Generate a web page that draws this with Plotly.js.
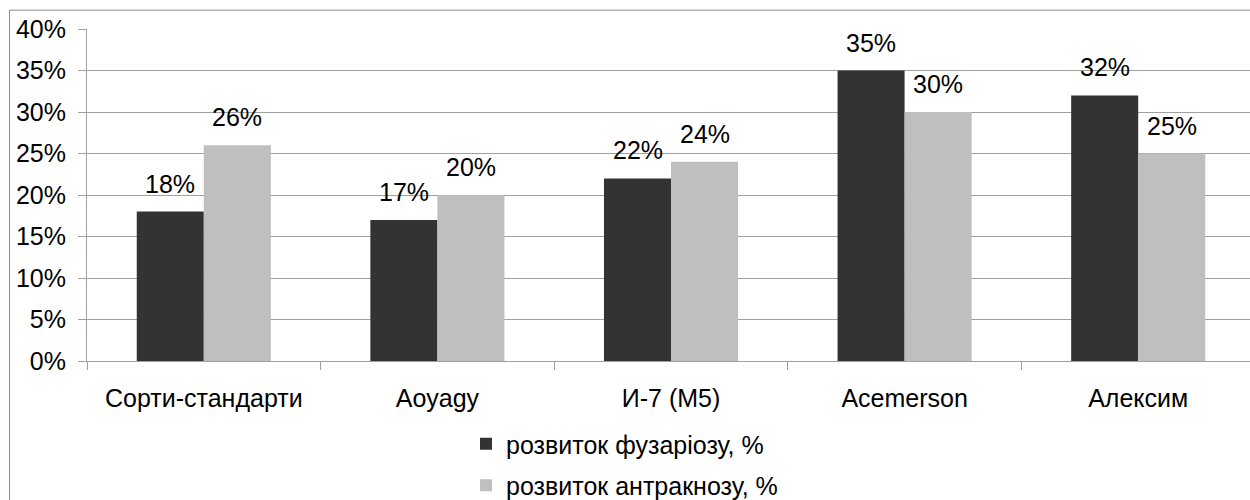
<!DOCTYPE html>
<html>
<head>
<meta charset="utf-8">
<script src="https://cdn.plot.ly/plotly-3.0.1.min.js"></script>
<style>
  html, body { margin: 0; padding: 0; overflow: hidden; background: #fff; }
  #chart { width: 1260px; height: 500px; }
</style>
</head>
<body>
<div id="chart"></div>
<script>
const categories = ["Сорти-стандарти", "Aoyagy", "И-7 (М5)", "Acemerson", "Алексим"];
const fusariumName = "розвиток фузаріозу, %";
const anthracnoseName = "розвиток антракнозу, %";
const fusarium = [0.18, 0.17, 0.22, 0.35, 0.32];
const anthracnose = [0.26, 0.20, 0.24, 0.30, 0.25];

const FONT = "Liberation Sans, Arial, sans-serif";
const ML = 87, MT = 29.3, PW = 1168, PH = 331.4;

const traces = [
  { type: "bar", name: fusariumName, x: categories, y: fusarium,
    marker: { color: "#333333" }, legendgroup: "a", hoverinfo: "none" },
  { type: "bar", name: anthracnoseName, x: categories, y: anthracnose,
    marker: { color: "#bfbfbf" }, legendgroup: "b", hoverinfo: "none" }
];

const annotations = [];
const barOffset = 33.5;
[fusarium, anthracnose].forEach((series, s) => {
  series.forEach((v, i) => {
    annotations.push({
      x: categories[i], y: v, xref: "x", yref: "y",
      text: Math.round(v * 100) + "%",
      showarrow: false, yanchor: "bottom", xanchor: "center",
      xshift: s === 0 ? -barOffset : barOffset, yshift: 12,
      font: { family: FONT, size: 25, color: "#000" }
    });
  });
});

const layout = {
  width: 1260, height: 500,
  margin: { l: ML, r: 1260 - ML - PW, t: MT, b: 500 - MT - PH, pad: 0, autoexpand: false },
  paper_bgcolor: "#fff", plot_bgcolor: "#fff",
  barmode: "group", bargap: 0.426, bargroupgap: 0,
  font: { family: FONT, size: 25, color: "#000" },
  showlegend: true,
  legend: {
    orientation: "v", xref: "container", yref: "container",
    x: 466 / 1260, xanchor: "left",
    y: (500 - 421) / 500, yanchor: "top",
    font: { family: FONT, size: 25, color: "#000" },
    tracegroupgap: 6, bgcolor: "rgba(0,0,0,0)"
  },
  xaxis: {
    type: "category", tickson: "boundaries", ticks: "outside", ticklen: 8,
    tickcolor: "#a0a0a0", tickwidth: 1, automargin: false,
    showline: true, linecolor: "#a0a0a0", linewidth: 1,
    showgrid: false, zeroline: false, ticklabelstandoff: 15,
    tickfont: { family: FONT, size: 25, color: "#000" }
  },
  yaxis: {
    range: [0, 0.40], dtick: 0.05, tick0: 0, tickformat: ".0%",
    ticks: "outside", ticklen: 8, tickcolor: "#a0a0a0", tickwidth: 1, automargin: false,
    showline: true, linecolor: "#a0a0a0", linewidth: 1,
    showgrid: true, gridcolor: "#a0a0a0", gridwidth: 1, zeroline: false,
    ticklabelstandoff: 7,
    tickfont: { family: FONT, size: 25, color: "#000" }
  },
  annotations: annotations,
  shapes: [{
    type: "rect", xref: "paper", yref: "paper", layer: "below",
    x0: (9.5 - ML) / PW, x1: (1262 - ML) / PW,
    y0: (MT + PH - 505) / PH, y1: (MT + PH - 10.5) / PH,
    line: { color: "#8c8c8c", width: 1 }, fillcolor: "rgba(0,0,0,0)"
  }]
};

Plotly.newPlot("chart", traces, layout, { displayModeBar: false, staticPlot: true });
</script>
</body>
</html>
